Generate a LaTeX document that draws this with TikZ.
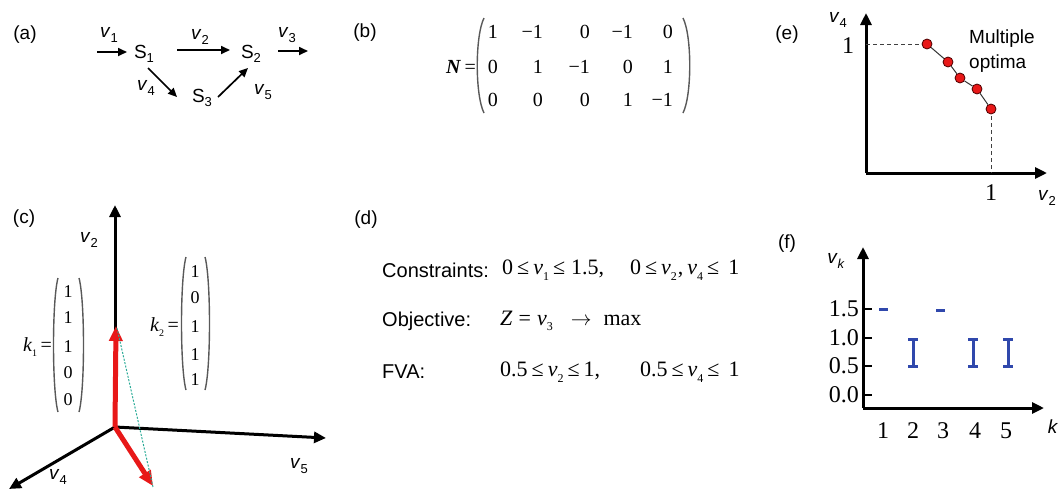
\documentclass[tikz,border=0pt]{standalone}
\usepackage{fontspec}
\setmainfont{Liberation Serif}
\newfontfamily\lsans{Liberation Sans}
\usetikzlibrary{arrows.meta,calc}
\newcommand{\ssub}[1]{\raisebox{-0.45ex}{\fontsize{13}{13}\selectfont #1}}
\newcommand{\tsub}[1]{\raisebox{-0.55ex}{\fontsize{12}{12}\selectfont #1}}
\newcommand{\ksub}[1]{\raisebox{-0.6ex}{\fontsize{10}{10}\selectfont #1}}
\newcommand{\vv}[1]{\textit{v}\ssub{#1}}
\newcommand{\tv}[1]{\textit{v}\tsub{#1}}
\newcommand{\tle}{\hspace{4pt}≤\hspace{4pt}}
\definecolor{myred}{RGB}{232,24,24}
\definecolor{myblue}{RGB}{48,72,172}
\definecolor{myteal}{RGB}{40,170,150}
\tikzset{
  plab/.style={font=\lsans\fontsize{19}{23}\selectfont, inner sep=0pt},
  slab/.style={font=\lsans\fontsize{19}{23}\selectfont, inner sep=0pt},
  mth/.style={font=\fontsize{20}{24}\selectfont, inner sep=0pt},
  big/.style={font=\fontsize{22}{26}\selectfont, inner sep=0pt},
  axl/.style={font=\fontsize{24}{28}\selectfont, inner sep=0pt},
  vec/.style={font=\fontsize{18}{20}\selectfont, inner sep=0pt},
  arr/.style={-{Triangle[length=9pt,width=8pt]}, line width=1.7pt},
  axis/.style={-{Triangle[length=12pt,width=11pt]}, line width=3pt},
  redarr/.style={-{Triangle[length=15pt,width=13pt]}, line width=5pt, myred},
  paren/.style={line width=1.4pt, black!65},
  dashl/.style={line width=1pt, black!75, dash pattern=on 4pt off 3pt},
  dot/.style={circle, fill=myred, draw=black!70!red, line width=0.8pt, minimum size=10pt, inner sep=0pt},
  bar/.style={line width=3pt, myblue},
  tick/.style={line width=1.5pt}
}
\begin{document}
\begin{tikzpicture}[x=1pt,y=-1pt]
\useasboundingbox (0,0) rectangle (1062,488);
% ---------- (a)
\node[plab] (la) at (25,35) {(a)};
\node[slab] (S1) at (144,54) {S\ssub{1}};
\node[slab] (S2) at (251,54) {S\ssub{2}};
\node[slab] (S3) at (202,98) {S\ssub{3}};
\coordinate (in1) at (97,52);
\coordinate (out3) at (308,51);
\draw[arr] (in1) -- ($(S1)+(-17,-2)$);
\draw[arr] ($(S1)+(33,-4)$) -- ($(S2)+(-21,-4)$);
\draw[arr] ($(S2)+(27,-3)$) -- (out3);
\draw[arr] ($(S1)+(4,14)$) -- ($(S3)+(-25,-1)$);
\draw[arr] ($(S3)+(16,-1)$) -- ($(S2)+(-3,14)$);
\node[slab] (v1) at (109,35) {\vv{1}};
\node[slab] (v2) at (200,37) {\vv{2}};
\node[slab] (v3) at (287,35) {\vv{3}};
\node[slab] (v4) at (146,88) {\vv{4}};
\node[slab] (v5) at (263,92) {\vv{5}};
% ---------- (b)
\node[plab] (lb) at (365,33) {(b)};
\node[mth, anchor=east] (Neq) at (476,67) {\textbf{\textit{N}}\,=};
\foreach \r/\y in {1/32,2/67,3/100}{
  \foreach \c/\x in {1/498,2/543,3/590,4/633,5/673}{
    \coordinate (m\r\c) at (\x,\y);
  }
}
\node[mth, anchor=east] (b11) at (m11) {1};
\node[mth, anchor=east] (b12) at (m12) {−1};
\node[mth, anchor=east] (b13) at (m13) {0};
\node[mth, anchor=east] (b14) at (m14) {−1};
\node[mth, anchor=east] (b15) at (m15) {0};
\node[mth, anchor=east] (b21) at (m21) {0};
\node[mth, anchor=east] (b22) at (m22) {1};
\node[mth, anchor=east] (b23) at (m23) {−1};
\node[mth, anchor=east] (b24) at (m24) {0};
\node[mth, anchor=east] (b25) at (m25) {1};
\node[mth, anchor=east] (b31) at (m31) {0};
\node[mth, anchor=east] (b32) at (m32) {0};
\node[mth, anchor=east] (b33) at (m33) {0};
\node[mth, anchor=east] (b34) at (m34) {1};
\node[mth, anchor=east] (b35) at (m35) {−1};
\draw[paren] (484,18) .. controls (475,36) and (475,95) .. (484,113);
\draw[paren] (683,18) .. controls (692,36) and (692,95) .. (683,113);
% ---------- (e)
\node[plab] (le) at (787,35) {(e)};
\coordinate (eo) at (866,173);
\draw[axis] (eo) -- (866,13);
\draw[axis] (eo) -- (1047,173);
\coordinate (e1y) at (866,44);
\coordinate (e1x) at (991,173);
\coordinate (p1) at (927,44);
\coordinate (p5) at (991,109);
\draw[dashl] (e1y) -- (p1);
\draw[dashl] (p5) -- (e1x);
\node[dot] (d1) at (927,44) {};
\node[dot] (d2) at (948,62) {};
\node[dot] (d3) at (960,78) {};
\node[dot] (d4) at (977,89) {};
\node[dot] (d5) at (991,109) {};
\draw[line width=1pt, black!80] (d1) -- (d2) -- (d3) -- (d4) -- (d5);
\node[axl] (e1) at (848,46) {1};
\node[axl] (e1b) at (991,193) {1};
\node[slab] (ev4) at (838,20) {\vv{4}};
\node[slab, anchor=west] (ev2) at (1038,198) {\vv{2}};
\node[slab, anchor=west, align=left, font=\lsans\fontsize{19}{25}\selectfont] (mo) at (969,51) {Multiple\\optima};
% ---------- (c)
\node[plab] (lc) at (24,219) {(c)};
\coordinate (O) at (115,427);
\draw[axis] (O) -- (115,205);
\draw[axis] (O) -- (326,438);
\draw[axis] (O) -- (9,489);
\node[slab] (cv2) at (89,240) {\vv{2}};
\node[slab] (cv5) at (299,466) {\vv{5}};
\node[slab] (cv4) at (58,477) {\vv{4}};
\coordinate (k1tip) at (116,326);
\coordinate (k2tip) at (153,486);
\draw[redarr] (O) -- (k1tip);
\draw[redarr] (O) -- (k2tip);
\draw[myteal, line width=1pt, dash pattern=on 2pt off 1.5pt] (117,328) -- (153,487);
\node[vec, anchor=east, font=\fontsize{20}{22}\selectfont] (k1l) at (52,347) {\textit{k}\ksub{1}\,=};
\foreach \i/\y/\t in {1/292/1,2/318/1,3/347/1,4/373/0,5/400/0}{
  \node[vec] (k1e\i) at (68,\y) {\t};
}
\draw[paren] (58,278) .. controls (52,300) and (52,390) .. (58,412);
\draw[paren] (79,278) .. controls (85,300) and (85,390) .. (79,412);
\node[vec, anchor=east, font=\fontsize{20}{22}\selectfont] (k2l) at (179,327) {\textit{k}\ksub{2}\,=};
\foreach \i/\y/\t in {1/272/1,2/298/0,3/327/1,4/355/1,5/380/1}{
  \node[vec] (k2e\i) at (195,\y) {\t};
}
\draw[paren] (186,257) .. controls (180,279) and (180,368) .. (186,390);
\draw[paren] (205,257) .. controls (211,279) and (211,368) .. (205,390);
% ---------- (d)
\node[plab] (ld) at (366,220) {(d)};
\node[slab, anchor=west, font=\lsans\fontsize{20}{24}\selectfont] (cons) at (382,270) {Constraints:};
\node[slab, anchor=west, font=\lsans\fontsize{20}{24}\selectfont] (obj) at (382,321) {Objective:};
\node[slab, anchor=west, font=\lsans\fontsize{20}{24}\selectfont] (fva) at (382,372) {FVA:};
\node[big, anchor=west] (consm) at (502,270) {0\tle\tv{1}\tle\hspace{2pt}1.5,\hspace{26pt}0\tle\tv{2}\hspace{1pt},\hspace{4pt}\tv{4}\tle\hspace{5pt}1};
\node[big, anchor=west] (objm) at (500,321) {\textit{Z}\hspace{6pt}=\hspace{6pt}\tv{3}\hspace{18pt}$\rightarrow$\hspace{12pt}max};
\node[big, anchor=west] (fvam) at (500,372) {0.5\tle\tv{2}\tle1,\hspace{40pt}0.5\tle\tv{4}\tle\hspace{5pt}1};
% ---------- (f)
\node[plab] (lf) at (787,244) {(f)};
\coordinate (fo) at (863,408);
\draw[axis] (fo) -- (863,247);
\draw[axis] (fo) -- (1044,408);
\foreach \y/\t in {309/1.5,338/1.0,366/0.5,395/0.0}{
  \draw[tick] (863,\y) -- (872,\y);
  \node[axl, anchor=east] (ft\t) at (859,\y) {\t};
}
\node[slab] (fvk) at (836,261) {\textit{v}\ssub{\textit{k}}};
\foreach \x/\t in {883/1,913/2,943/3,975/4,1006/5}{
  \node[axl] (fx\t) at (\x,431) {\t};
}
\node[slab] (fk) at (1053,427) {\textit{k}};
\draw[bar] (879,309) -- (888,309);
\draw[bar] (936,310) -- (945,310);
\foreach \x in {913,973,1008}{
  \draw[bar] (\x,339) -- (\x,366);
  \draw[bar] (\x-5,339) -- (\x+5,339);
  \draw[bar] (\x-5,366) -- (\x+5,366);
}
\end{tikzpicture}
\end{document}
